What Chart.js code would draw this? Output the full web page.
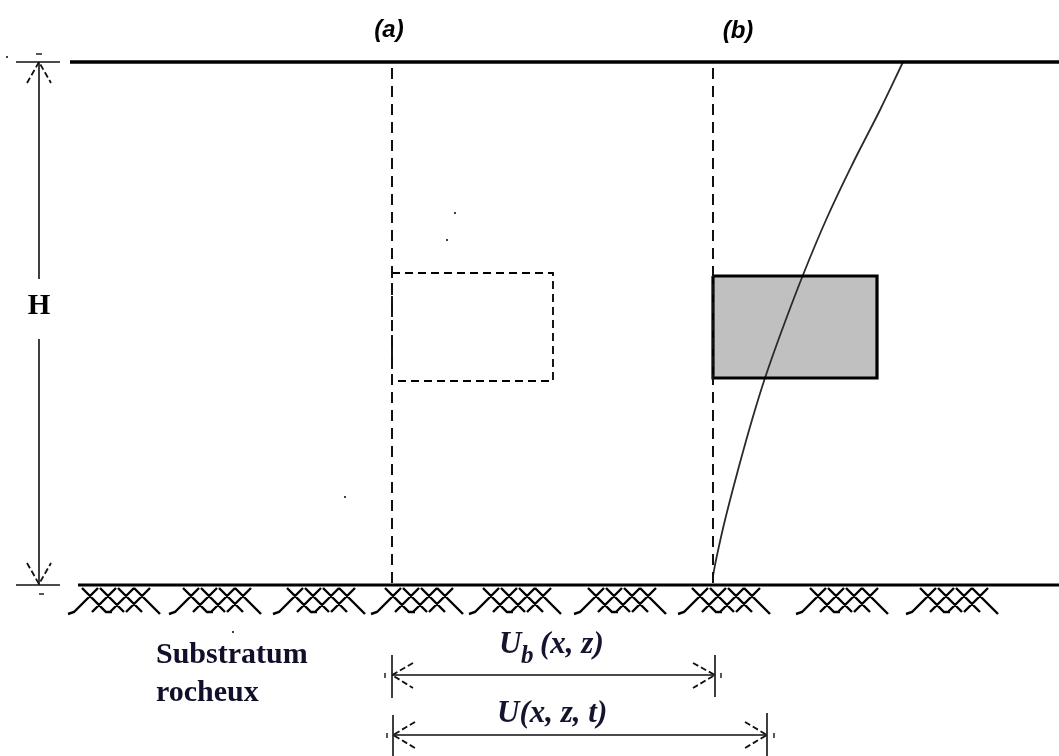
<!DOCTYPE html>
<html><head><meta charset="utf-8">
<script src="https://cdn.jsdelivr.net/npm/chart.js@4/dist/chart.umd.min.js"></script>
<style>html,body{margin:0;padding:0;background:#fff;overflow:hidden}canvas{display:block}</style>
</head><body>
<canvas id="c" width="1059" height="756"></canvas>
<script>
// ---- diagram data (in drawing units: x 0..1059, z-depth 0..756) ----
const topBoundary    = [[70,62],[1059,62]];
const bedrockSurface = [[78,585],[1059,585]];
const sectionA       = [[392,68],[392,585]];
const sectionB       = [[713,68],[713,585]];
const initialBlock   = [[392,273],[553,273],[553,381],[392,381],[392,273]];
const movedBlockTop  = [[713,276],[877,276]];
const movedBlockBot  = [[713,378],[877,378]];
const movedBlock     = [[713,276],[877,276],[877,378],[713,378],[713,276]];
// displacement profile U(z) (x at given depth)
const profileDepth   = [576, 560, 520, 470, 420, 378, 330, 275, 220, 165, 110, 62];
const profileX       = [713, 716, 725, 738, 752, 765, 782, 803, 826, 852, 880, 903];
// dimension lines
const heightLine     = [[[39,62],[39,279]],[[39,339],[39,585]],[[16,62],[60,62]],[[16,585],[60,585]],
                        [[392,655],[392,698]],[[715,655],[715,697]],[[392,675],[715,675]],
                        [[393,715],[393,756]],[[767,713],[767,756]],[[393,735],[767,735]]];
const arrowHeads     = [[[27,83],[39,62],[51,83]],[[27,563],[39,584],[51,563]],
                        [[413,663],[392,675],[413,688]],[[693,663],[715,675],[693,688]],
                        [[415,722],[393,735],[415,748]],[[745,722],[767,735],[745,748]]];
const tickMarks      = [[[36,54],[42,54]],[[39,594],[44,594]],[[385,673],[385,678]],[[721,673],[721,678]],
                        [[387,733],[387,738]],[[774,733],[774,738]]];
const strayDots      = [[7,57],[455,213],[447,240],[345,497],[233,632]];
// rock hatching groups (left edge of each XXX group)
const hatchGroups    = [72,173,277,375,473,578,682,800,910];
const hatchStrokes   = [[[10,0],[34,24],[40,24]],[[28,0],[52,24]],[[46,0],[70,24]],[[62,0],[84,22],[88,26]],
                        [[26,0],[2,24],[-4,26]],[[44,0],[20,24]],[[62,0],[38,24]],[[78,0],[54,24]]];
const hatchTop = 588;
// text labels
const labelTexts = ['(a)', '(b)', 'H', 'Substratum', 'rocheux', 'U', 'b', '(x, z)', 'U(x, z, t)'];

// ---- helpers ----
const pts = a => a.map(p => ({x:p[0], y:p[1]}));
function joinSegments(list){
  const out = [];
  list.forEach((seg,i)=>{ if(i) out.push({x:seg[0][0], y:null}); seg.forEach(p=>out.push({x:p[0],y:p[1]})); });
  return out;
}
const hatchSegs = [];
hatchGroups.forEach(g => hatchStrokes.forEach(s => hatchSegs.push(s.map(p => [g+p[0], hatchTop+p[1]]))));

const base = {showLine:true, pointRadius:0, pointHoverRadius:0, fill:false, borderColor:'#000', tension:0, spanGaps:false, clip:false};
const datasets = [
  {...base, data: pts(movedBlockTop), borderWidth:0},
  {...base, data: pts(movedBlockBot), borderWidth:0, fill:'-1', backgroundColor:'#c0c0c0'},
  {...base, data: profileDepth.map((z,i)=>({x:profileX[i], y:z})), borderColor:'#2a2a2a', borderWidth:1.8, tension:0.4},
  {...base, data: pts(movedBlock), borderWidth:3.2},
  {...base, data: pts(initialBlock), borderWidth:1.8, borderDash:[8,5]},
  {...base, data: pts(sectionA), borderWidth:2, borderDash:[11,7], borderColor:'#111'},
  {...base, data: pts(sectionB), borderWidth:2, borderDash:[11,7], borderColor:'#111'},
  {...base, data: pts(topBoundary), borderWidth:3.5},
  {...base, data: pts(bedrockSurface), borderWidth:3.2},
  {...base, data: joinSegments(heightLine), borderWidth:1.6, borderColor:'#111'},
  {...base, data: joinSegments(arrowHeads), borderWidth:1.8, borderDash:[6,3], borderColor:'#111'},
  {...base, data: joinSegments(tickMarks), borderWidth:1.5, borderColor:'#222'},
  {...base, data: joinSegments(hatchSegs), borderWidth:2.4, borderColor:'#000'},
  {...base, showLine:false, data: pts(strayDots), pointRadius:1, pointBackgroundColor:'#000', pointBorderWidth:0}
];
// first listed = drawn first (bottom)
datasets.forEach((d,i) => { d.order = datasets.length - i; });

const textPlugin = {
  id:'diagramText',
  afterDatasetsDraw(chart){
    const ctx = chart.ctx, sx = chart.scales.x, sy = chart.scales.y;
    const X = v => sx.getPixelForValue(v), Y = v => sy.getPixelForValue(v);
    ctx.save();
    ctx.fillStyle = '#000';
    ctx.textBaseline = 'middle';
    ctx.textAlign = 'center';
    ctx.font = 'italic bold 24px "Liberation Sans", Arial, sans-serif';
    ctx.fillText(labelTexts[0], X(389), Y(30));
    ctx.fillText(labelTexts[1], X(738), Y(31));
    ctx.font = 'bold 29px "Liberation Serif", "Times New Roman", serif';
    ctx.fillText(labelTexts[2], X(39), Y(307));
    ctx.textAlign = 'left';
    ctx.fillStyle = '#10102a';
    ctx.font = 'bold 30px "Liberation Serif", "Times New Roman", serif';
    ctx.fillText(labelTexts[3], X(156), Y(655));
    ctx.fillText(labelTexts[4], X(156), Y(693));
    ctx.fillStyle = '#14142e';
    ctx.textBaseline = 'alphabetic';
    ctx.font = 'italic bold 31px "Liberation Serif", "Times New Roman", serif';
    ctx.fillText(labelTexts[5], X(499), Y(653));
    ctx.font = 'italic bold 25px "Liberation Serif", "Times New Roman", serif';
    ctx.fillText(labelTexts[6], X(521), Y(663));
    ctx.font = 'italic bold 31px "Liberation Serif", "Times New Roman", serif';
    ctx.fillText(labelTexts[7], X(540), Y(653));
    ctx.fillText(labelTexts[8], X(497), Y(722));
    ctx.restore();
  }
};

new Chart(document.getElementById('c'), {
  type:'scatter',
  data:{datasets},
  options:{
    responsive:false, animation:false, devicePixelRatio:1,
    layout:{padding:0, autoPadding:false},
    events:[],
    plugins:{legend:{display:false}, tooltip:{enabled:false}},
    scales:{
      x:{type:'linear', min:0, max:1059, display:false},
      y:{type:'linear', min:0, max:756, reverse:true, display:false}
    }
  },
  plugins:[textPlugin]
});
</script>
</body></html>
